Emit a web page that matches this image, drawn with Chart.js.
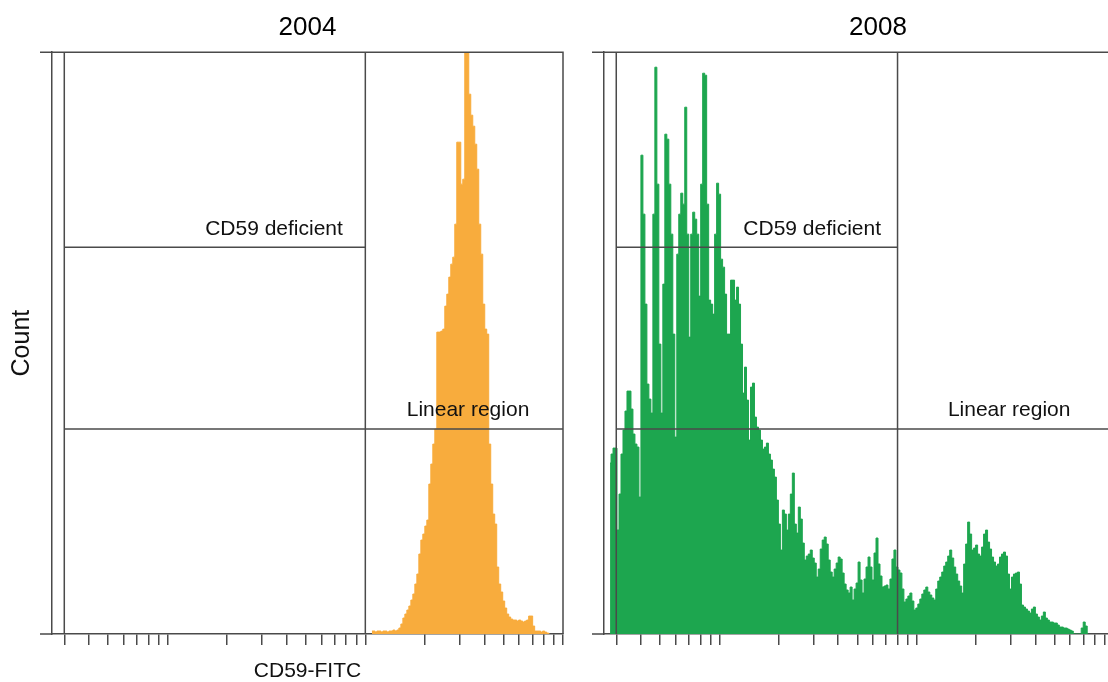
<!DOCTYPE html>
<html>
<head>
<meta charset="utf-8">
<script src="https://cdn.jsdelivr.net/npm/chart.js@4.4.1/dist/chart.umd.min.js"></script>
<style>
html,body{margin:0;padding:0;width:1108px;height:682px;overflow:hidden;background:#fff;}
#c1{position:absolute;left:0;top:0;width:580px;height:682px;}
#c2{position:absolute;left:580px;top:0;width:572px;height:682px;}
</style>
</head>
<body>
<canvas id="c1" width="580" height="682"></canvas>
<canvas id="c2" width="572" height="682"></canvas>
<script>
// ---------- data ----------
const panelTitles = ['2004', '2008'];
const xAxisTitle = 'CD59-FITC';
const yAxisTitle = 'Count';
const gateLabelDeficient = 'CD59 deficient';
const gateLabelLinear = 'Linear region';

// log-scale tick marks on the CD59-FITC axis
const xTickValues = [3,4,5,6,7,8,9,10,20,30,40,50,60,70,80,90,100,200,300,400,500,600,700,800,900,1000];

// histogram channels are equally spaced in log10(CD59-FITC)
const channelStep = 0.0101;

// 2004 histogram: CD59-FITC value of the first channel, then counts per channel
const start2004 = 108;
const counts2004 = [3,3,2,3,3,2,3,3,2,3,3,4,3,4,6,10,16,20,24,28,34,40,50,60,80,94,100,108,114,150,
  170,190,205,302,302,303,305,328,340,357,370,377,410,492,492,450,455,582,582,540,
  519,508,490,465,410,380,330,305,300,190,150,120,110,67,50,42,33,26,20,17,
  15,14,14,13,14,13,12,13,14,18,18,8,3,3,3,2,3,2,1,0];

// 2008 histogram
const start2008 = 2.79;
const counts2008 = [171,180,186,186,104,140,180,204,223,243,243,225,200,190,187,137,479,420,330,250,
  235,221,420,567,450,290,221,350,500,495,450,400,300,197,380,420,441,430,527,400,
  297,400,422,415,400,338,450,561,559,430,334,330,320,400,451,440,375,367,340,300,
  300,354,354,334,347,330,290,241,267,234,194,247,251,217,207,204,194,185,187,191,
  180,174,165,157,134,110,84,124,120,104,120,140,161,110,101,127,115,91,74,78,
  80,84,76,71,57,65,85,94,97,90,74,62,57,65,71,77,75,61,50,44,
  41,47,34,45,51,72,54,41,55,67,77,67,54,81,96,70,58,47,48,49,
  45,55,75,84,67,64,61,45,32,35,38,41,33,24,26,30,35,40,44,47,
  42,39,36,34,45,53,57,62,68,72,78,84,76,67,60,53,48,41,70,90,
  112,100,84,86,89,80,78,87,100,104,92,85,77,72,68,70,77,80,82,78,
  60,45,57,60,61,62,50,29,27,25,23,21,25,27,20,17,14,18,22,16,
  14,12,12,11,11,9,7,7,6,6,5,4,3,0,0,0,0,6,12,8,0];

// gates
const gateLow = 3;
const gateHigh2004 = 100;
const gateHigh2008 = 80;
const deficientLevel = 387;
const linearLevel = 205;
const countMax = 582;

// axis ranges
const xMin = 2.6;
const xMax2004 = 1000;
const xMax2008 = 1560;

// ---------- styles ----------
const FONT = "'Liberation Sans', Arial, sans-serif";
const LINE = '#4a4a4a';
const ORANGE = '#F8AC3D';
const GREEN = '#1DA64F';

function toPoints(start, counts) {
  return counts.map((c, i) => ({ x: start * Math.pow(10, i * channelStep), y: c }));
}

function gateSets(high, xMax) {
  return [
    [{x: gateLow, y: 0}, {x: gateLow, y: countMax}],
    [{x: high, y: 0}, {x: high, y: countMax}],
    [{x: gateLow, y: deficientLevel}, {x: high, y: deficientLevel}],
    [{x: gateLow, y: linearLevel}, {x: xMax, y: linearLevel}]
  ].map(d => ({
    data: d, borderColor: LINE, borderWidth: 1.5, pointRadius: 0, fill: false, order: 0, clip: false
  }));
}

const framePlugin = {
  id: 'frame',
  afterDatasetsDraw(chart, args, opts) {
    const { ctx, chartArea: { left, right, top, bottom } } = chart;
    const xs = chart.scales.x, ys = chart.scales.y;
    ctx.save();
    ctx.strokeStyle = LINE;
    ctx.lineWidth = 1.5;
    ctx.beginPath();
    ctx.moveTo(left - 12, top); ctx.lineTo(right, top); ctx.lineTo(right, bottom);
    ctx.moveTo(left - 12, bottom); ctx.lineTo(left, bottom);
    ctx.stroke();
    ctx.fillStyle = '#111';
    ctx.font = '21px ' + FONT;
    ctx.textBaseline = 'alphabetic';
    (opts.labels || []).forEach(l => {
      ctx.textAlign = l.align;
      ctx.fillText(l.text, xs.getPixelForValue(l.x), ys.getPixelForValue(l.y));
    });
    ctx.restore();
  }
};

function makeChart(id, cfg) {
  return new Chart(document.getElementById(id), {
    type: 'line',
    data: {
      datasets: [
        ...gateSets(cfg.gateHigh, cfg.xMax),
        {
          data: toPoints(cfg.start, cfg.counts),
          stepped: 'middle', fill: 'origin',
          backgroundColor: cfg.color, borderColor: cfg.color, borderWidth: 1,
          pointRadius: 0, order: 1
        }
      ]
    },
    options: {
      responsive: false,
      animation: false,
      events: [],
      layout: { padding: cfg.padding },
      plugins: {
        legend: { display: false },
        tooltip: { enabled: false },
        title: {
          display: true, text: cfg.title, color: '#000', fullSize: false,
          font: { family: FONT, size: 26, weight: 'normal', lineHeight: 1.2 },
          padding: { top: 12, bottom: 9 }
        },
        frame: { labels: cfg.labels }
      },
      scales: {
        x: {
          type: 'logarithmic', min: xMin, max: cfg.xMax, bounds: 'data',
          afterBuildTicks: (scale) => { scale.ticks = xTickValues.map(v => ({ value: v })); },
          ticks: { display: false },
          grid: { display: true, drawOnChartArea: false, drawTicks: true, tickLength: 11, color: LINE, lineWidth: 1.5 },
          border: { display: true, color: LINE, width: 1.5 },
          title: cfg.xTitle ? {
            display: true, text: cfg.xTitle, color: '#111',
            font: { family: FONT, size: 21, lineHeight: 1 },
            padding: { top: 16, bottom: 0 }
          } : { display: false }
        },
        y: {
          type: 'linear', min: 0, max: countMax, bounds: 'data',
          ticks: { display: false },
          grid: { display: false, drawTicks: false, tickLength: 0 },
          border: { display: true, color: LINE, width: 1.5 },
          title: cfg.yTitle ? {
            display: true, text: cfg.yTitle, color: '#111',
            font: { family: FONT, size: 25, lineHeight: 1 },
            padding: { top: 9.5, bottom: 17.5 }
          } : { display: false }
        }
      }
    },
    plugins: [framePlugin]
  });
}

makeChart('c1', {
  title: panelTitles[0], start: start2004, counts: counts2004, color: ORANGE,
  gateHigh: gateHigh2004, xMax: xMax2004, xTitle: xAxisTitle, yTitle: yAxisTitle,
  padding: { left: 0, right: 17, top: 0, bottom: 0 },
  labels: [
    { text: gateLabelDeficient, x: 77, y: 399, align: 'right' },
    { text: gateLabelLinear, x: 162, y: 218, align: 'left' }
  ]
});

makeChart('c2', {
  title: panelTitles[1], start: start2008, counts: counts2008, color: GREEN,
  gateHigh: gateHigh2008, xMax: xMax2008, xTitle: null, yTitle: null,
  padding: { left: 24, right: 0, top: 0, bottom: 37 },
  labels: [
    { text: gateLabelDeficient, x: 66, y: 399, align: 'right' },
    { text: gateLabelLinear, x: 144, y: 218, align: 'left' }
  ]
});
</script>
</body>
</html>
